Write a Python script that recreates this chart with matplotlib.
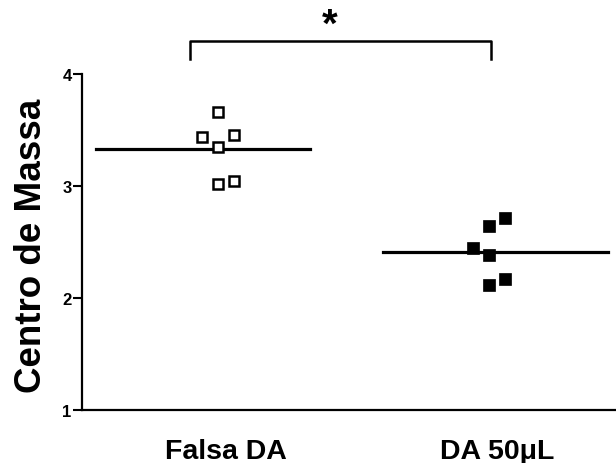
import matplotlib
matplotlib.use("Agg")
import matplotlib.pyplot as plt

# data
groups = ["Falsa DA", "DA 50\u03bcL"]
falsa_da = [3.66, 3.435, 3.455, 3.35, 3.015, 3.047]
da_50 = [2.714, 2.646, 2.444, 2.384, 2.116, 2.17]
# horizontal scatter offsets (column index) so the points do not overlap
falsa_cols = [0, -1, 1, 0, 0, 1]
da_cols = [1, 0, -1, 0, 0, 1]
yticks = [1, 2, 3, 4]

plt.rcParams["font.family"] = ["Liberation Sans", "DejaVu Sans"]
plt.rcParams["font.weight"] = "bold"

fig = plt.figure(figsize=(6.16, 4.64), dpi=100)
ax = fig.add_axes([82 / 616, 53 / 464, 1 - 82 / 616, 336 / 464])

dx = 0.059
xs1 = [1 + c * dx for c in falsa_cols]
xs2 = [2 + c * dx for c in da_cols]
ax.plot(xs1, falsa_da, "s", ms=7, mfc="white", mec="black", mew=1.8, zorder=3)
ax.plot(xs2, da_50, "s", ms=8, mfc="black", mec="black", mew=0.5, zorder=3)

# mean lines
m1 = sum(falsa_da) / len(falsa_da)
m2 = sum(da_50) / len(da_50)
ax.plot([0.55, 1.34], [m1, m1], color="black", lw=2.3, zorder=2)
ax.plot([1.61, 2.44], [m2, m2], color="black", lw=2.3, zorder=2)

ax.set_xlim(0.5, 2.47)
ax.set_ylim(1, 4)
ax.set_yticks(yticks)
ax.set_yticklabels([str(t) for t in yticks], fontsize=12, fontweight="bold")
ax.set_xticks([1.03, 2.03])
ax.set_xticklabels(groups, fontsize=20.5, fontweight="bold")
ax.tick_params(axis="x", length=0, pad=20)
ax.tick_params(axis="y", length=6.5, width=1.5, pad=1)
ax.set_ylabel("Centro de Massa", fontsize=26.5, fontweight="bold")
ax.yaxis.set_label_coords(-0.062, 0.49)

for s in ["top", "right"]:
    ax.spines[s].set_visible(False)
for s in ["left", "bottom"]:
    ax.spines[s].set_linewidth(1.6)

# significance bracket
ax.plot([0.90, 0.90, 2.01, 2.01], [4.134, 4.295, 4.295, 4.134], color="black",
        lw=1.8, clip_on=False)
ax.text(1.415, 4.44, "*", ha="center", va="center", fontsize=29, fontweight="bold")

fig.savefig("out.png", dpi=100)
